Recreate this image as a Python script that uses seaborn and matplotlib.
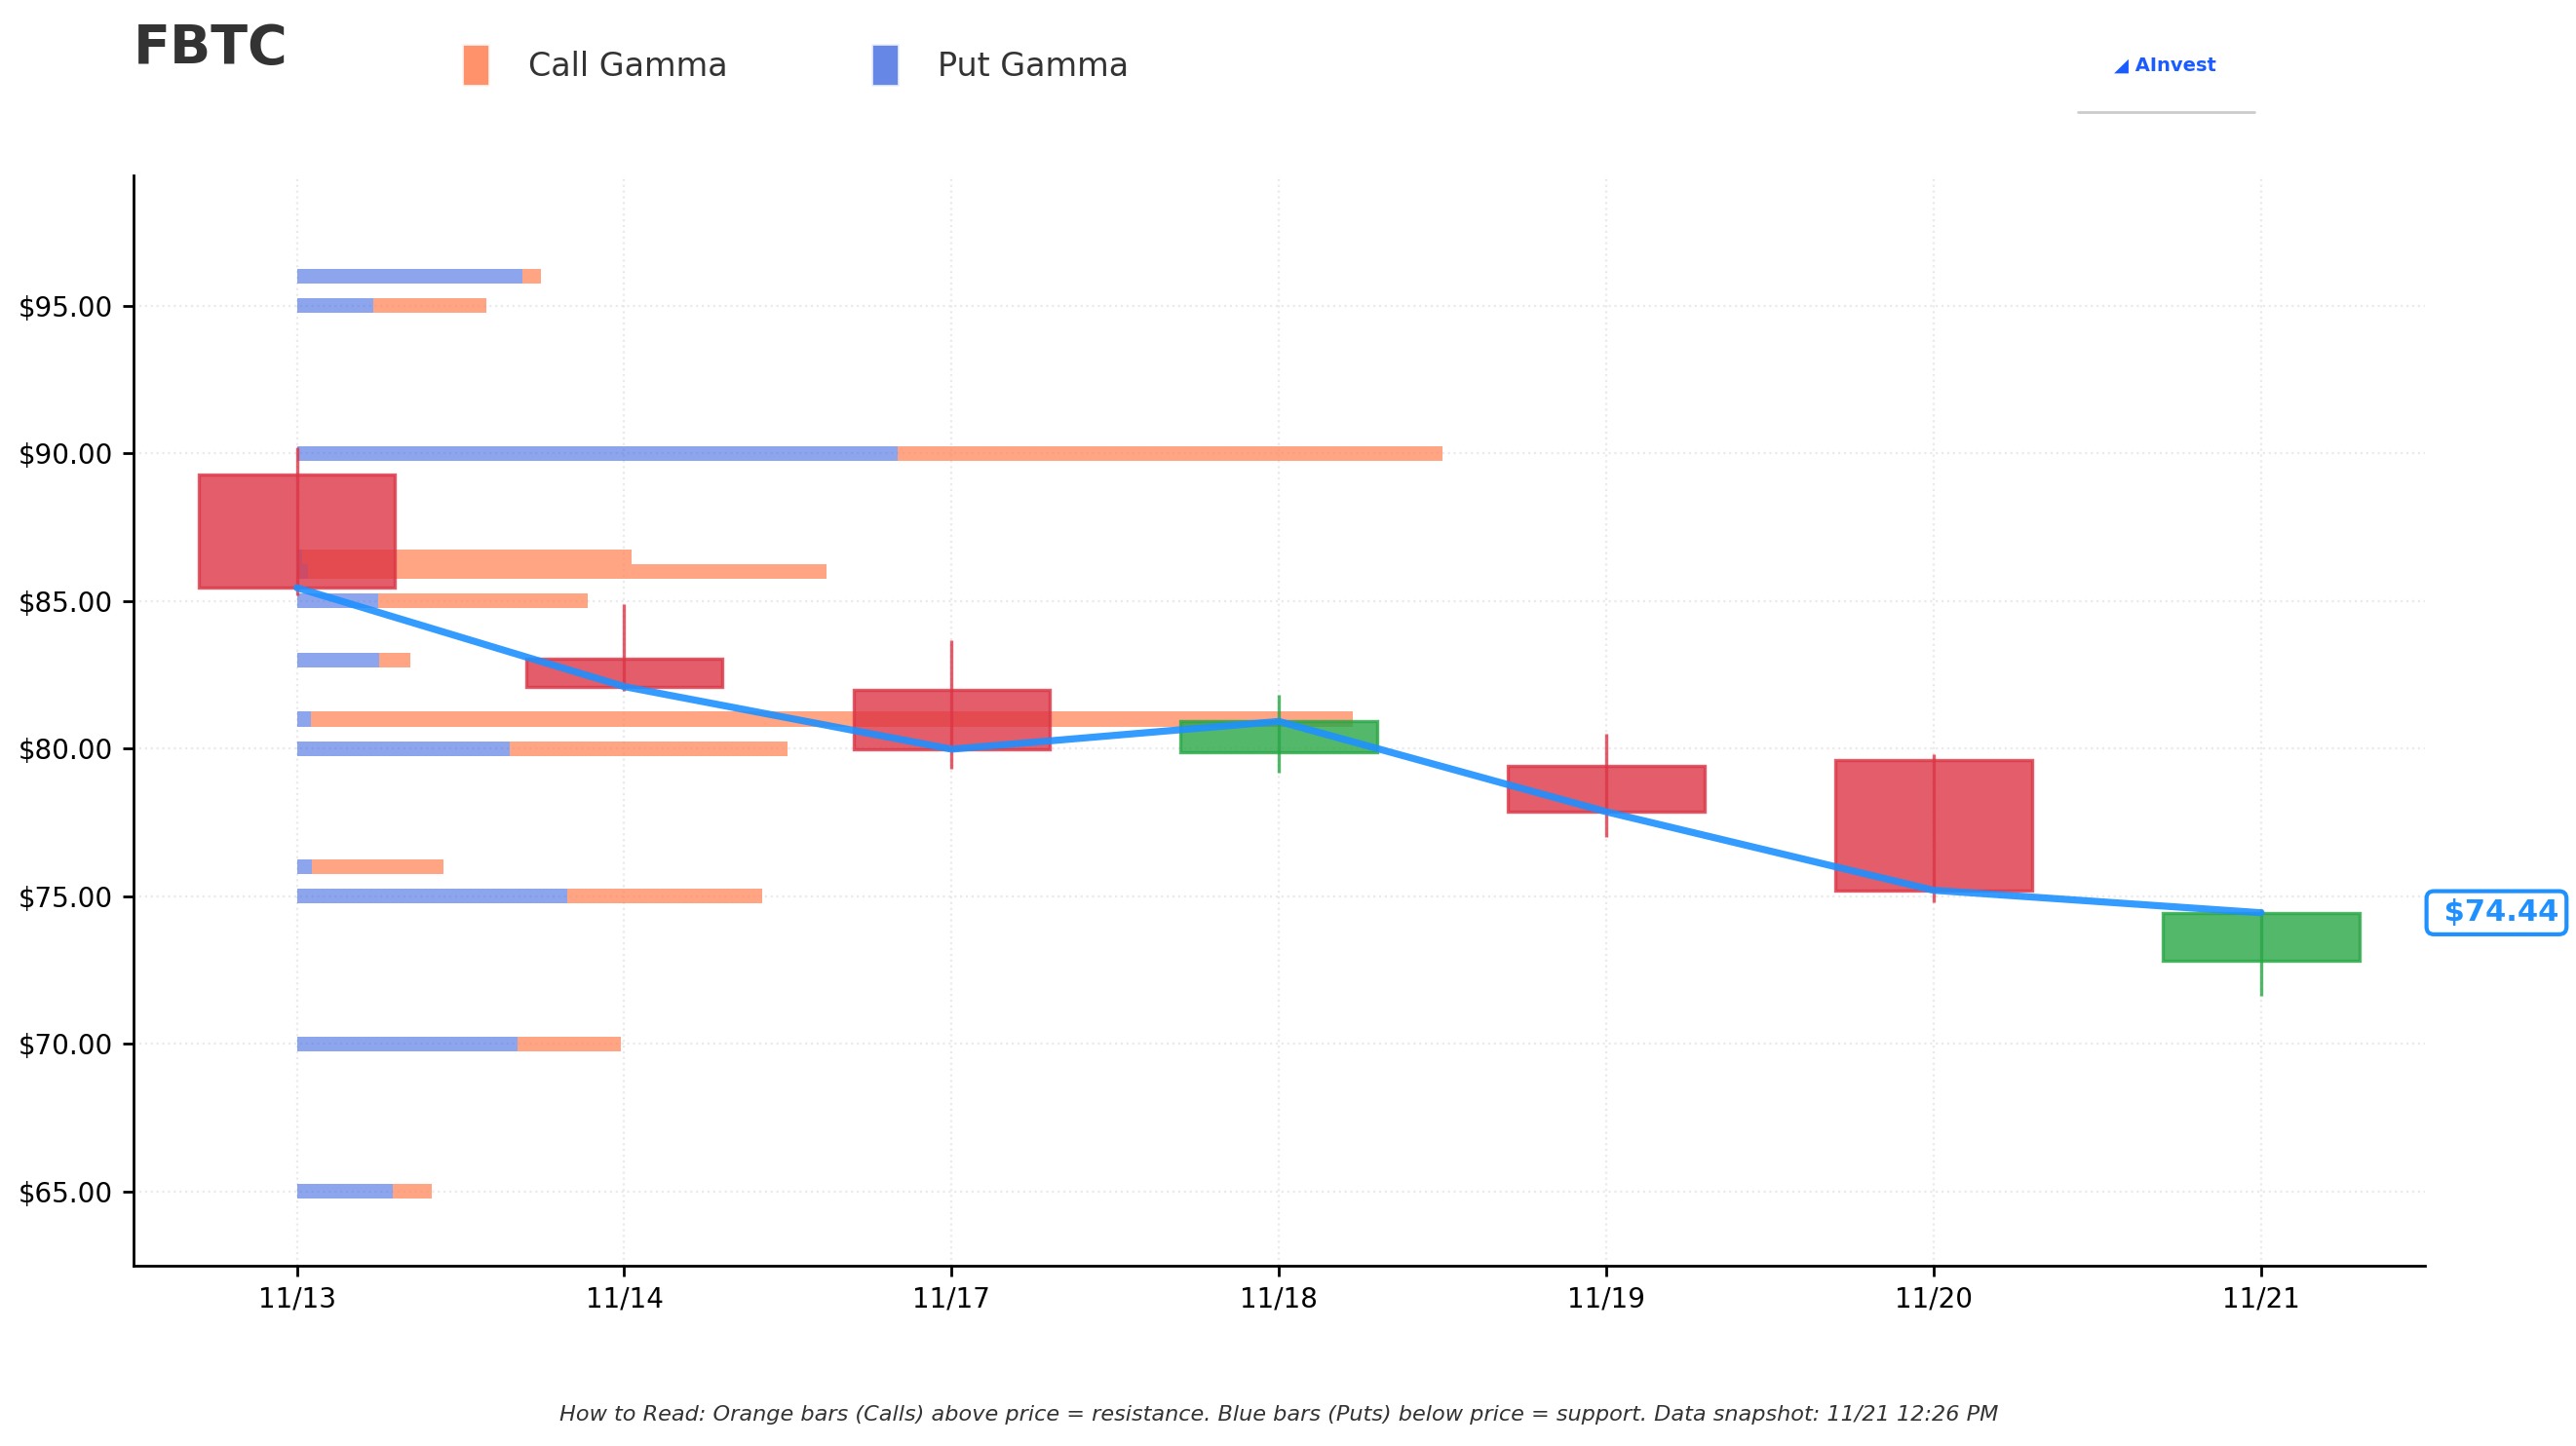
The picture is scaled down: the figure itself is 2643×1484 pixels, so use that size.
import numpy as np
import pandas as pd
import seaborn as sns
import matplotlib.pyplot as plt
from matplotlib.patches import Patch
from matplotlib.lines import Line2D
import matplotlib.transforms as mtransforms

# daily candles
dates = ["11/13", "11/14", "11/17", "11/18", "11/19", "11/20", "11/21"]
opens = [89.27, 83.05, 82.00, 79.87, 79.41, 79.61, 72.80]
highs = [90.20, 84.90, 83.67, 81.81, 80.51, 79.82, 74.57]
lows = [85.20, 81.95, 79.31, 79.18, 77.00, 74.80, 71.63]
closes = [85.45, 82.10, 79.98, 80.92, 77.86, 75.20, 74.44]

# gamma by strike (width in day units)
strikes = [96, 95, 90, 86.5, 86, 85, 83, 81, 80, 76, 75, 70, 65]
put_gamma = [0.69, 0.232, 1.835, 0.015, 0.033, 0.249, 0.25, 0.042, 0.649, 0.047, 0.827, 0.674, 0.292]
call_gamma = [0.056, 0.348, 1.664, 1.007, 1.584, 0.64, 0.096, 3.184, 0.851, 0.40, 0.594, 0.316, 0.121]

last_price = 74.44

sns.set_style("white")
plt.rcParams['font.family'] = ['DejaVu Sans']

fig = plt.figure(figsize=(2643 / 200, 1484 / 200), dpi=200)
ax = fig.add_axes([0.0517, 0.125, 0.8896, 0.7534])

x = np.arange(len(dates))
df = pd.DataFrame({"x": x, "close": closes})

# gamma bars
ax.barh(strikes, put_gamma, height=0.5, left=0, color="royalblue", alpha=0.6,
        linewidth=0, zorder=2)
ax.barh(strikes, call_gamma, height=0.5, left=put_gamma, color="coral", alpha=0.7,
        linewidth=0, zorder=2)

# candles
up = np.array(closes) >= np.array(opens)
ccol = ["#28A745" if u else "#DC3545" for u in up]
bottoms = np.minimum(opens, closes)
heights = np.abs(np.array(closes) - np.array(opens))
ax.vlines(x, lows, highs, colors=ccol, linewidth=1.2, alpha=0.8, zorder=3)
ax.bar(x, heights, bottom=bottoms, width=0.6, color=ccol, alpha=0.8,
       edgecolor=ccol, linewidth=1.2, zorder=3)

# close line
sns.lineplot(data=df, x="x", y="close", ax=ax, color="#1E90FF", linewidth=2.6,
             alpha=0.9, zorder=4)

ax.set_xlim(-0.5, 6.5)
ax.set_ylim(62.5, 99.4)
ax.set_xticks(x)
ax.set_xticklabels(dates)
ax.set_yticks([65, 70, 75, 80, 85, 90, 95])
ax.set_yticklabels([f"${v:.2f}" for v in [65, 70, 75, 80, 85, 90, 95]])
ax.set_xlabel("")
ax.set_ylabel("")
ax.tick_params(axis="both", labelsize=10, colors="black", length=4, width=1, left=True, bottom=True)
ax.grid(True, linestyle=":", color="#dddddd", linewidth=0.8, alpha=0.6)
for s in ["top", "right"]:
    ax.spines[s].set_visible(False)
for s in ["left", "bottom"]:
    ax.spines[s].set_color("black")
    ax.spines[s].set_linewidth(1)

# price label
trans = mtransforms.blended_transform_factory(ax.transAxes, ax.transData)
ax.text(1.004, last_price, " $" + f"{last_price:.2f}", transform=trans, ha="left", va="center",
        fontsize=11, fontweight="bold", color="#1E90FF", clip_on=False,
        bbox=dict(boxstyle="round,pad=0.25", facecolor="white", edgecolor="#1E90FF", linewidth=1.5))

# header
fig.text(0.0517, 0.966, "FBTC", fontsize=20, fontweight="bold", color="#333333", ha="left", va="center")
handles = [Patch(facecolor="coral", alpha=0.85, label="Call Gamma"),
           Patch(facecolor="royalblue", alpha=0.8, label="Put Gamma")]
fig.legend(handles=handles, loc="center left", bbox_to_anchor=(0.168, 0.955), ncol=2,
           frameon=False, fontsize=12, handlelength=0.85, handleheight=1.6,
           handletextpad=1.2, columnspacing=4.4, labelcolor="#333333")

fig.text(0.8406, 0.9545, "◢ AInvest", fontsize=7, fontweight="bold", color="#1A5CFF", ha="center", va="center")
fig.add_artist(Line2D([0.8068, 0.875], [0.9227, 0.9227], transform=fig.transFigure,
                      color="#cccccc", linewidth=1))

fig.text(0.4965, 0.0216, "How to Read: Orange bars (Calls) above price = resistance. Blue bars (Puts) below price = support. Data snapshot: 11/21 12:26 PM",
         fontsize=8.05, style="italic", color="#333333", ha="center", va="center")

fig.savefig("out.png", dpi=200)
